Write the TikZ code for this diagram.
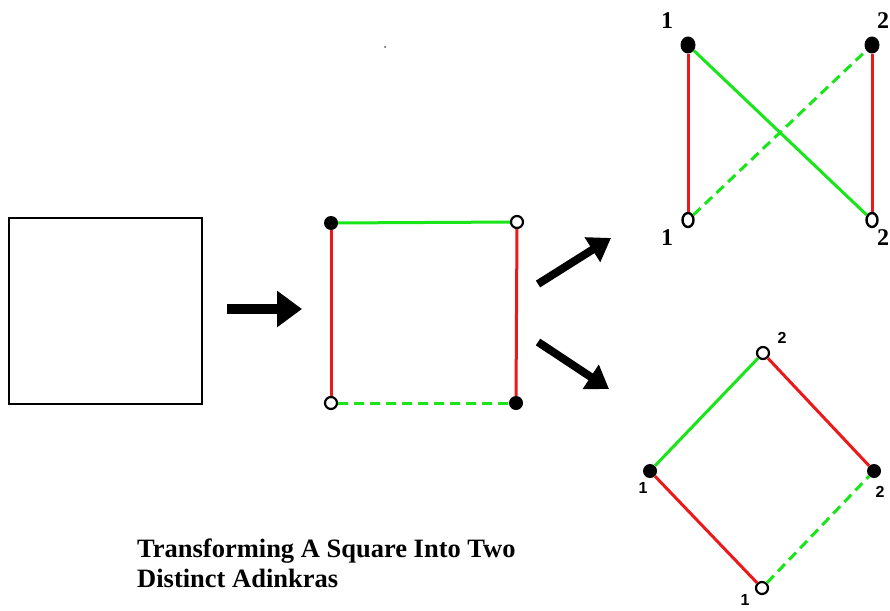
\documentclass[tikz,border=0pt]{standalone}
\usepackage{fontspec}
\setmainfont{Liberation Serif}
\setsansfont{Liberation Sans}
\usetikzlibrary{arrows.meta,shapes.geometric}
\definecolor{gr}{RGB}{25,230,25}
\definecolor{rd}{RGB}{235,25,25}
\begin{document}
\begin{tikzpicture}[x=1pt,y=-1pt,
  blk/.style={circle,fill=black,inner sep=0pt,minimum size=14pt},
  wht/.style={circle,draw=black,fill=white,line width=2.2pt,inner sep=0pt,minimum size=12pt},
  blke/.style={ellipse,fill=black,inner sep=0pt,minimum width=15pt,minimum height=17pt},
  whte/.style={ellipse,draw=black,fill=white,line width=2.4pt,inner sep=0pt,minimum width=11pt,minimum height=14pt},
  gline/.style={draw=gr,line width=3pt},
  rline/.style={draw=rd,line width=3pt},
  gdash/.style={gline,dash pattern=on 10pt off 6pt},
  bigarrow/.style={line width=10pt,-{Triangle[length=25pt,width=35pt]}},
  diagarrow/.style={line width=8pt,-{Triangle[length=22pt,width=28pt]}},
  biglab/.style={font=\fontsize{24}{24}\selectfont\bfseries,inner sep=0pt},
  smlab/.style={font=\sffamily\fontsize{16}{16}\selectfont\bfseries,inner sep=0pt},
]
\useasboundingbox (0,0) rectangle (890,610);
\fill[white] (0,0) rectangle (890,610);

% stray speck
\fill[black!70] (385,47) circle (1pt);

% plain square
\node[draw=black,line width=2pt,minimum width=193pt,minimum height=186pt,inner sep=0pt] (sq) at (105.5,311) {};

% first arrow
\coordinate (a1s) at (227,309);
\coordinate (a1e) at (302,309);
\draw[bigarrow] (a1s) -- (a1e);

% middle square
\node[blk] (m1) at (331,223) {};
\node[wht] (m2) at (517,222) {};
\node[wht] (m3) at (331,403) {};
\node[blk] (m4) at (516,403) {};
\draw[gline] (m1) -- (m2);
\draw[rline] (m1) -- (m3);
\draw[rline] (m2) -- (m4);
\draw[gdash] (m3) -- (m4);

% diagonal arrows
\coordinate (a2s) at (538,284);
\coordinate (a2e) at (611,238);
\coordinate (a3s) at (538,342);
\coordinate (a3e) at (609,389);
\draw[diagarrow] (a2s) -- (a2e);
\draw[diagarrow] (a3s) -- (a3e);

% top-right adinkra
\node[blke] (t1) at (688,45) {};
\node[blke] (t2) at (872,45) {};
\node[whte] (t3) at (688,220) {};
\node[whte] (t4) at (872,220) {};
\draw[rline] (t1) -- (t3);
\draw[rline] (t2) -- (t4);
\draw[gline] (t1) -- (t4);
\draw[gdash] (t3) -- (t2);
\node[biglab] (l1) at (667,21) {1};
\node[biglab] (l2) at (883,21) {2};
\node[biglab] (l3) at (667,238) {1};
\node[biglab] (l4) at (883,238) {2};

% diamond adinkra
\node[wht] (d1) at (763,353) {};
\node[blk] (d2) at (650,471) {};
\node[blk] (d3) at (874,471) {};
\node[wht] (d4) at (762,588) {};
\draw[gline] (d2) -- (d1);
\draw[rline] (d1) -- (d3);
\draw[rline] (d2) -- (d4);
\draw[gdash] (d4) -- (d3);
\node[smlab] (k1) at (782,338) {2};
\node[smlab] (k2) at (643,488) {1};
\node[smlab] (k3) at (880,492) {2};
\node[smlab] (k4) at (745,600) {1};

% caption
\node[anchor=base west,inner sep=0pt,font=\fontsize{26.5}{30}\selectfont\bfseries] (cap1) at (137,557) {Transforming A Square Into Two};
\node[anchor=base west,inner sep=0pt,font=\fontsize{26.5}{30}\selectfont\bfseries] (cap2) at (137,587) {Distinct Adinkras};
\end{tikzpicture}
\end{document}
